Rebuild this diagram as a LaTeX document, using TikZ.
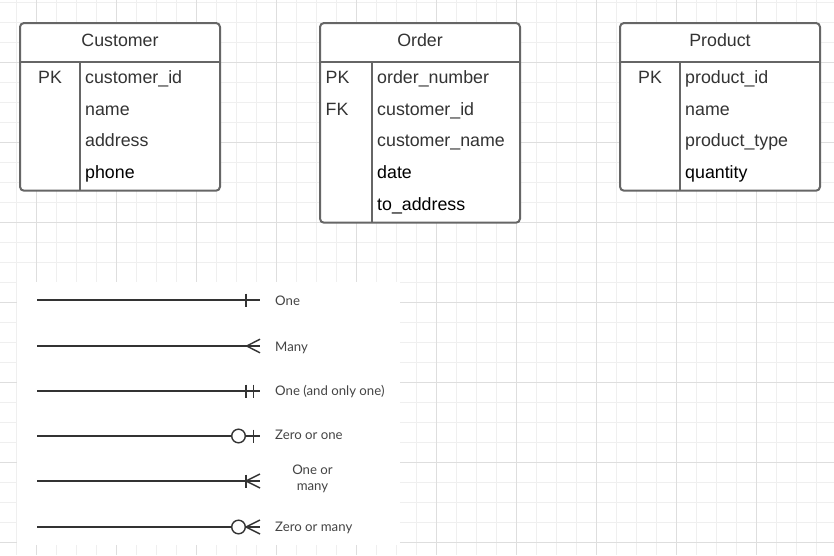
\documentclass[tikz,border=0pt]{standalone}
\usepackage{fontspec}
\setmainfont{Liberation Sans}
\newfontfamily\legendfont{Lato}
\definecolor{gridminor}{HTML}{EFEFEF}
\definecolor{gridmajor}{HTML}{DEDEDE}
\definecolor{boxline}{HTML}{666666}
\definecolor{fieldtext}{HTML}{333333}
\definecolor{legendtext}{HTML}{444444}
\definecolor{legendline}{HTML}{333333}
\tikzset{
  tablebox/.style={draw=boxline, line width=2pt, fill=white, rounded corners=4pt,
    anchor=north west, minimum width=200pt, inner sep=0pt, outer sep=0pt},
  rowline/.style={draw=boxline, line width=2pt},
  title/.style={anchor=base, text=fieldtext, inner sep=0pt, font=\fontsize{17.8}{20}\selectfont},
  field/.style={anchor=base west, inner sep=0pt, font=\fontsize{17.8}{20}\selectfont},
  keyfield/.style={anchor=base, text=fieldtext, inner sep=0pt, font=\fontsize{17.8}{20}\selectfont},
  legendlabel/.style={anchor=base west, text=legendtext, inner sep=0pt, font=\legendfont\fontsize{13.2}{16}\selectfont},
  relline/.style={draw=legendline, line width=1.4pt},
}
\begin{document}
\begin{tikzpicture}[x=1pt, y=-1pt]
\useasboundingbox (0,0) rectangle (834,555);
\fill[white] (0,0) rectangle (834,555);
% background grid
\foreach \k in {0,...,41} {
    \draw[gridminor, line width=1pt] (16.7+20*\k,0) -- (16.7+20*\k,555);
}
\foreach \k in {0,...,27} {
    \draw[gridminor, line width=1pt] (0,2.3+20*\k) -- (834,2.3+20*\k);
}
\foreach \k in {0,...,9} {
    \draw[gridmajor, line width=1pt] (36.7+80*\k,0) -- (36.7+80*\k,555);
}
\foreach \k in {0,...,6} {
    \draw[gridmajor, line width=1pt] (0,62.3+80*\k) -- (834,62.3+80*\k);
}

% Customer
\node[tablebox, minimum height=167.7pt] (cust) at (20,23) {};
\draw[rowline] ([yshift=-39.3pt]cust.north west) -- ([yshift=-39.3pt]cust.north east);
\draw[rowline] ([xshift=60pt,yshift=-39.3pt]cust.north west) -- ([xshift=60pt]cust.south west);
\node[title] (cust-title) at (120,46.7) {Customer};
\node[keyfield] (cust-pk) at (50,83.3) {PK};
\foreach \f/\c [count=\i from 0] in {customer\_id/fieldtext, name/fieldtext, address/fieldtext, phone/black} {
    \node[field, text=\c] (cust-f\i) at (85,83.3+31.75*\i) {\f};
}

% Order
\node[tablebox, minimum height=199.7pt] (ord) at (320,23) {};
\draw[rowline] ([yshift=-39.3pt]ord.north west) -- ([yshift=-39.3pt]ord.north east);
\draw[rowline] ([xshift=51.7pt,yshift=-39.3pt]ord.north west) -- ([xshift=51.7pt]ord.south west);
\node[title] (ord-title) at (420,46.7) {Order};
\node[field, text=fieldtext] (ord-pk) at (325.5,83.3) {PK};
\node[field, text=fieldtext] (ord-fk) at (325.5,115.05) {FK};
\foreach \f/\c [count=\i from 0] in {order\_number/fieldtext, customer\_id/fieldtext, customer\_name/fieldtext, date/black, to\_address/black} {
    \node[field, text=\c] (ord-f\i) at (377,83.3+31.75*\i) {\f};
}

% Product
\node[tablebox, minimum height=167.7pt] (prod) at (620,23) {};
\draw[rowline] ([yshift=-39.3pt]prod.north west) -- ([yshift=-39.3pt]prod.north east);
\draw[rowline] ([xshift=60pt,yshift=-39.3pt]prod.north west) -- ([xshift=60pt]prod.south west);
\node[title] (prod-title) at (720,46.7) {Product};
\node[keyfield] (prod-pk) at (650,83.3) {PK};
\foreach \f/\c [count=\i from 0] in {product\_id/fieldtext, name/fieldtext, product\_type/fieldtext, quantity/black} {
    \node[field, text=\c] (prod-f\i) at (685,83.3+31.75*\i) {\f};
}

% legend
\fill[white] (16.7,282.3) rectangle (400,545);

\coordinate (one-s) at (37,300);
\coordinate (one-e) at (260,300);
\draw[relline] (one-s) -- (one-e);
\draw[relline] ([xshift=-14pt]one-e) ++(0,-6.5) -- ++(0,13);
\node[legendlabel] (one-lbl) at (275,305.7) {One};

\coordinate (many-s) at (37,346);
\coordinate (many-e) at (260,346);
\draw[relline] (many-s) -- (many-e);
\draw[relline] ([xshift=-13.3pt]many-e) -- ++(13.3,-6.8)
    ([xshift=-13.3pt]many-e) -- ++(13.3,6.8);
\node[legendlabel] (many-lbl) at (275,351) {Many};

\coordinate (only-s) at (37,391);
\coordinate (only-e) at (260,391);
\draw[relline] (only-s) -- (only-e);
\draw[relline] ([xshift=-14pt]only-e) ++(0,-6.5) -- ++(0,13);
\draw[relline] ([xshift=-6.7pt]only-e) ++(0,-6.5) -- ++(0,13);
\node[legendlabel] (only-lbl) at (275,395.3) {One (and only one)};

\coordinate (zone-s) at (37,436);
\coordinate (zone-e) at (260,436);
\draw[relline] (zone-s) -- (zone-e);
\draw[relline, fill=white] ([xshift=-21.5pt]zone-e) circle (6.8);
\draw[relline] ([xshift=-6.7pt]zone-e) ++(0,-6.5) -- ++(0,13);
\node[legendlabel] (zone-lbl) at (275,439.3) {Zero or one};

\coordinate (omany-s) at (37,481);
\coordinate (omany-e) at (260,481);
\draw[relline] (omany-s) -- (omany-e);
\draw[relline] ([xshift=-14pt]omany-e) ++(0,-6.5) -- ++(0,13);
\draw[relline] ([xshift=-14pt]omany-e) -- ++(14,-7)
    ([xshift=-14pt]omany-e) -- ++(14,7);
\node[legendlabel, anchor=base] (omany-lbl1) at (312.5,474.5) {One or};
\node[legendlabel, anchor=base] (omany-lbl2) at (312.5,490.5) {many};

\coordinate (zmany-s) at (37,527);
\coordinate (zmany-e) at (260,527);
\draw[relline] (zmany-s) -- (zmany-e);
\draw[relline, fill=white] ([xshift=-21.5pt]zmany-e) circle (6.8);
\draw[relline] ([xshift=-14pt]zmany-e) -- ++(14,-7)
    ([xshift=-14pt]zmany-e) -- ++(14,7);
\node[legendlabel] (zmany-lbl) at (275,531.7) {Zero or many};
\end{tikzpicture}
\end{document}
